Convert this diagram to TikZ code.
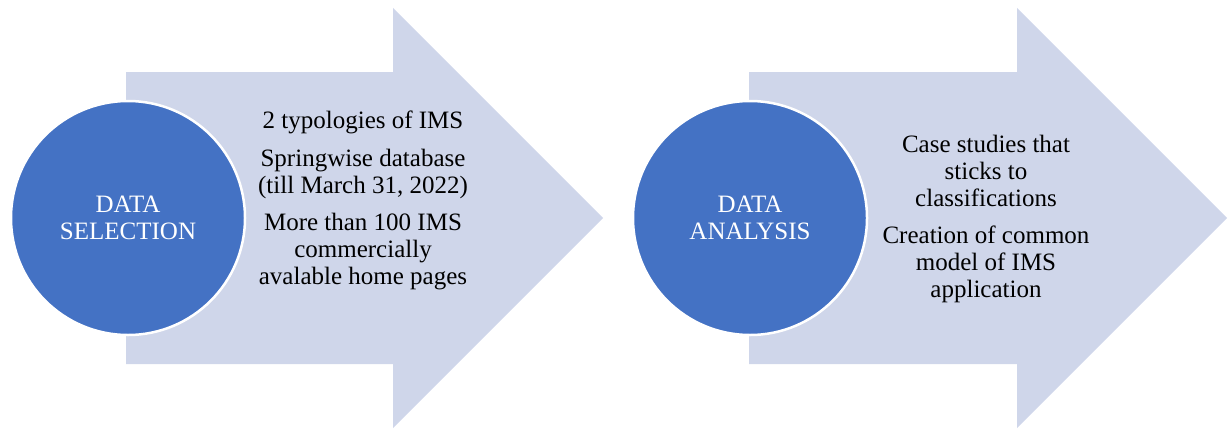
\documentclass[tikz,border=0pt]{standalone}
\usepackage{fontspec}
\setmainfont{Liberation Serif}
\definecolor{stepfill}{HTML}{CFD6EA}
\definecolor{phaseblue}{HTML}{4472C4}
\begin{document}
\begin{tikzpicture}[x=1pt,y=-1pt,
  bigarrow/.style={fill=stepfill},
  phase/.style={circle, fill=phaseblue, draw=white, line width=2.5pt,
    minimum size=234pt, inner sep=0pt, text=white, align=center,
    font=\fontsize{25}{27}\selectfont},
  detail/.style={align=center, text=black, inner sep=0pt, anchor=north,
    font=\fontsize{25}{27}\selectfont}]
\useasboundingbox (0,0) rectangle (1230,428);

% first step: block arrow with its phase circle
\fill[bigarrow] (126,72) -- (393,72) -- (393,8) -- (603,218)
  -- (393,428) -- (393,364) -- (126,364) -- cycle;
\node[phase] (sel) at (128,218) {DATA\\SELECTION};
\node[detail] (seltext) at (363,110.9)
  {2 typologies of IMS\\[10.5pt]
   Springwise database\\(till March 31, 2022)\\[10.5pt]
   More than 100 IMS\\commercially\\avalable home pages};

% second step
\fill[bigarrow] (749,72) -- (1017,72) -- (1017,8) -- (1227,218)
  -- (1017,428) -- (1017,364) -- (749,364) -- cycle;
\node[phase] (ana) at (750,218) {DATA\\ANALYSIS};
\node[detail] (anatext) at (986,134.9)
  {Case studies that\\sticks to\\classifications\\[10.5pt]
   Creation of common\\model of IMS\\application};
\end{tikzpicture}
\end{document}
